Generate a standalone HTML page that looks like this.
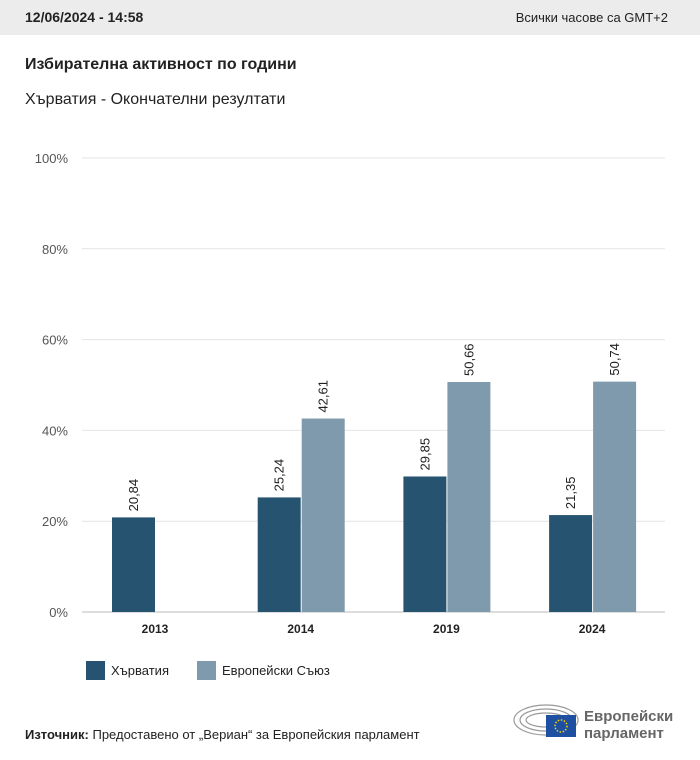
<!DOCTYPE html>
<html><head><meta charset="utf-8"><style>
body{margin:0;width:700px;height:760px;background:#fff;font-family:"Liberation Sans",sans-serif;position:relative;overflow:hidden;color:#222}
.hdr{position:absolute;left:0;top:0;width:700px;height:35px;background:#ececec}
.abs{position:absolute;white-space:nowrap}
</style></head><body>
<div class="hdr"></div>
<div class="abs" style="left:25px;top:9px;font-size:14px;font-weight:bold">12/06/2024 - 14:58</div>
<div class="abs" style="right:32px;top:10px;font-size:13px">Всички часове са GMT+2</div>
<div class="abs" style="left:25px;top:56px;font-size:16px;font-weight:bold">Избирателна активност по години</div>
<div class="abs" style="left:25px;top:91px;font-size:16px">Хърватия - Окончателни резултати</div>
<svg id="chart" class="abs" style="left:0;top:0" width="700" height="700"></svg>
<div class="abs" style="left:86px;top:661px;width:19px;height:19px;background:#265470"></div>
<div class="abs" style="left:111px;top:663px;font-size:13px">Хърватия</div>
<div class="abs" style="left:197px;top:661px;width:19px;height:19px;background:#7f9aad"></div>
<div class="abs" style="left:222px;top:663px;font-size:13px">Европейски Съюз</div>
<div class="abs" style="left:25px;top:727px;font-size:13px"><b>Източник:</b> Предоставено от „Вериан“ за Европейския парламент</div>
<svg class="abs" style="left:512px;top:700px" width="68" height="40">
<g fill="none" stroke="#999" stroke-width="1.2"><ellipse cx="34" cy="20" rx="32" ry="15"/><ellipse cx="34" cy="20" rx="26" ry="11"/><ellipse cx="34" cy="20" rx="20" ry="7"/></g>
<rect x="34" y="15" width="30" height="22" fill="#1f4fa0"/><circle cx="49" cy="26" r="6" fill="none" stroke="#f3d500" stroke-width="1.5" stroke-dasharray="1.5 1.6"/></svg>
<div class="abs" style="left:584px;top:708px;font-size:15px;font-weight:bold;color:#666;line-height:17px">Европейски<br>парламент</div>
<script>
const categories=["2013","2014","2019","2024"];
const croatia=[20.84,25.24,29.85,21.35];
const eu=[null,42.61,50.66,50.74];
const ticks=[0,20,40,60,80,100];
const svg=document.getElementById('chart');const NS='http://www.w3.org/2000/svg';
const y0=612,y100=158,xL=82,xR=665;
const y=v=>y0-(y0-y100)*v/100;
const cx=i=>155+i*145.7;
function mk(t,a){const e=document.createElementNS(NS,t);for(const k in a)e.setAttribute(k,a[k]);svg.appendChild(e);return e;}
ticks.forEach(t=>{const l=mk('line',{x1:xL,x2:xR,y1:y(t),y2:y(t),stroke:t===0?'#bbb':'#e4e4e4'});


const tx=mk('text',{x:68,y:y(t)+5,'text-anchor':'end','font-size':13,fill:'#555'});tx.textContent=t+'%';

});
function bar(x,v,c,nm){const r=mk('rect',{x:x,y:y(v),width:43,height:y0-y(v),fill:c});


const tx=mk('text',{transform:`translate(${x+26},${y(v)-6}) rotate(-90)`,'font-size':13,fill:'#222'});tx.textContent=v.toFixed(2).replace('.',',');

}
categories.forEach((c,i)=>{const x=cx(i);
bar(x-43,croatia[i],'#265470','bar-croatia-'+c);
if(eu[i]!=null)bar(x+1,eu[i],'#7f9aad','bar-eu-'+c);
const tx=mk('text',{x:x,y:633,'text-anchor':'middle','font-size':12,'font-weight':'bold',fill:'#222'});tx.textContent=c;

});
</script>
</body></html>
